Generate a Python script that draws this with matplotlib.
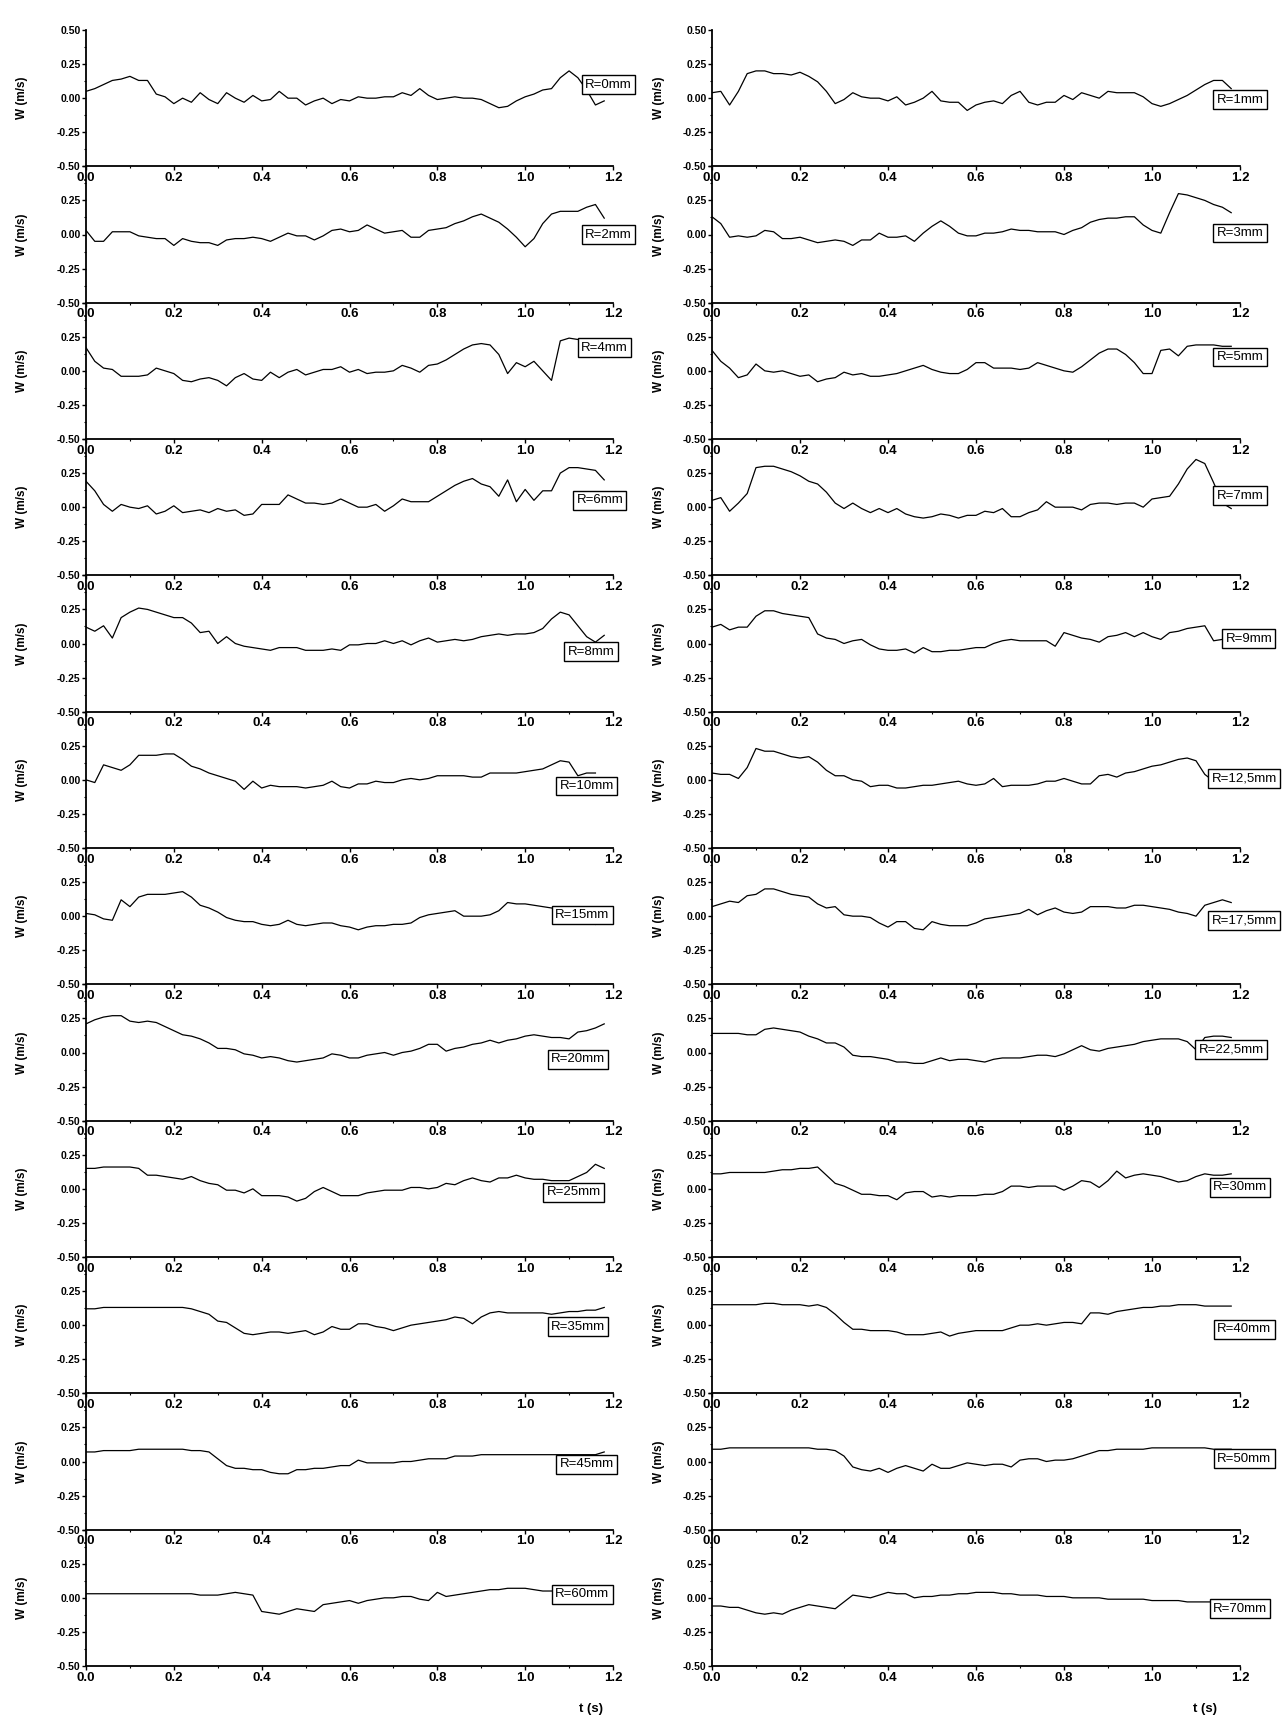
import numpy as np
import matplotlib
matplotlib.use('Agg')
import matplotlib.pyplot as plt
from matplotlib import font_manager
from matplotlib.ticker import MultipleLocator

# narrow font if available
names = {f.name for f in font_manager.fontManager.ttflist}
narrow = 'Liberation Sans Narrow' if 'Liberation Sans Narrow' in names else 'Liberation Sans'
plt.rcParams['font.family'] = [narrow, 'DejaVu Sans']
plt.rcParams['axes.unicode_minus'] = False

nan = np.nan
# time grid (s), 0.00 .. 1.18
t = np.round(np.arange(60) * 0.02, 2)

# ---- left column ----
w_r0 = [.05, .07, .10, .13, .14, .16, .13, .13, .03, .01,
        -.04, .00, -.03, .04, -.01, -.04, .04, .00, -.03, .02,
        -.02, -.01, .05, .00, .00, -.05, -.02, .00, -.04, -.01,
        -.02, .01, .00, .00, .01, .01, .04, .02, .07, .02,
        -.01, .00, .01, .00, .00, -.01, -.04, -.07, -.06, -.02,
        .01, .03, .06, .07, .15, .20, .15, .06, -.05, -.02]
w_r2 = [.03, -.05, -.05, .02, .02, .02, -.01, -.02, -.03, -.03,
        -.08, -.03, -.05, -.06, -.06, -.08, -.04, -.03, -.03, -.02,
        -.03, -.05, -.02, .01, -.01, -.01, -.04, -.01, .03, .04,
        .02, .03, .07, .04, .01, .02, .03, -.02, -.02, .03,
        .04, .05, .08, .10, .13, .15, .12, .09, .04, -.02,
        -.09, -.03, .08, .15, .17, .17, .17, .20, .22, .12]
w_r4 = [.17, .07, .02, .01, -.04, -.04, -.04, -.03, .02, .00,
        -.02, -.07, -.08, -.06, -.05, -.07, -.11, -.05, -.02, -.06,
        -.07, -.01, -.05, -.01, .01, -.03, -.01, .01, .01, .03,
        -.01, .01, -.02, -.01, -.01, .00, .04, .02, -.01, .04,
        .05, .08, .12, .16, .19, .20, .19, .12, -.02, .06,
        .03, .07, .00, -.07, .22, .24, .23, .23, .22, .22]
w_r6 = [.19, .12, .02, -.03, .02, .00, -.01, .01, -.05, -.03,
        .01, -.04, -.03, -.02, -.04, -.01, -.03, -.02, -.06, -.05,
        .02, .02, .02, .09, .06, .03, .03, .02, .03, .06,
        .03, .00, .00, .02, -.03, .01, .06, .04, .04, .04,
        .08, .12, .16, .19, .21, .17, .15, .08, .20, .04,
        .13, .05, .12, .12, .25, .29, .29, .28, .27, .20]
w_r8 = [.12, .09, .13, .04, .19, .23, .26, .25, .23, .21,
        .19, .19, .15, .08, .09, .00, .05, .00, -.02, -.03,
        -.04, -.05, -.03, -.03, -.03, -.05, -.05, -.05, -.04, -.05,
        -.01, -.01, .00, .00, .02, .00, .02, -.01, .02, .04,
        .01, .02, .03, .02, .03, .05, .06, .07, .06, .07,
        .07, .08, .11, .18, .23, .21, .13, .05, .01, .06]
w_r10 = [.00, -.02, .11, .09, .07, .11, .18, .18, .18, .19,
         .19, .15, .10, .08, .05, .03, .01, -.01, -.07, -.01,
         -.06, -.04, -.05, -.05, -.05, -.06, -.05, -.04, -.01, -.05,
         -.06, -.03, -.03, -.01, -.02, -.02, .00, .01, .00, .01,
         .03, .03, .03, .03, .02, .02, .05, .05, .05, .05,
         .06, .07, .08, .11, .14, .13, .03, .05, .05, nan]
w_r15 = [.02, .01, -.02, -.03, .12, .07, .14, .16, .16, .16,
         .17, .18, .14, .08, .06, .03, -.01, -.03, -.04, -.04,
         -.06, -.07, -.06, -.03, -.06, -.07, -.06, -.05, -.05, -.07,
         -.08, -.10, -.08, -.07, -.07, -.06, -.06, -.05, -.01, .01,
         .02, .03, .04, .00, .00, .00, .01, .04, .10, .09,
         .09, .08, .07, .06, .05, .05, .03, .00, -.06, nan]
w_r20 = [.21, .24, .26, .27, .27, .23, .22, .23, .22, .19,
         .16, .13, .12, .10, .07, .03, .03, .02, -.01, -.02,
         -.04, -.03, -.04, -.06, -.07, -.06, -.05, -.04, -.01, -.02,
         -.04, -.04, -.02, -.01, .00, -.02, .00, .01, .03, .06,
         .06, .01, .03, .04, .06, .07, .09, .07, .09, .10,
         .12, .13, .12, .11, .11, .10, .15, .16, .18, .21]
w_r25 = [.15, .15, .16, .16, .16, .16, .15, .10, .10, .09,
         .08, .07, .09, .06, .04, .03, -.01, -.01, -.03, .00,
         -.05, -.05, -.05, -.06, -.09, -.07, -.02, .01, -.02, -.05,
         -.05, -.05, -.03, -.02, -.01, -.01, -.01, .01, .01, .00,
         .01, .04, .03, .06, .08, .06, .05, .08, .08, .10,
         .08, .07, .07, .06, .06, .06, .09, .12, .18, .15]
w_r35 = [.12, .12, .13, .13, .13, .13, .13, .13, .13, .13,
         .13, .13, .12, .10, .08, .03, .02, -.02, -.06, -.07,
         -.06, -.05, -.05, -.06, -.05, -.04, -.07, -.05, -.01, -.03,
         -.03, .01, .01, -.01, -.02, -.04, -.02, .00, .01, .02,
         .03, .04, .06, .05, .01, .06, .09, .10, .09, .09,
         .09, .09, .09, .08, .09, .10, .10, .11, .11, .13]
w_r45 = [.07, .07, .08, .08, .08, .08, .09, .09, .09, .09,
         .09, .09, .08, .08, .07, .02, -.03, -.05, -.05, -.06,
         -.06, -.08, -.09, -.09, -.06, -.06, -.05, -.05, -.04, -.03,
         -.03, .01, -.01, -.01, -.01, -.01, .00, .00, .01, .02,
         .02, .02, .04, .04, .04, .05, .05, .05, .05, .05,
         .05, .05, .05, .05, .05, .05, .05, .05, .05, .07]
w_r60 = [.03, .03, .03, .03, .03, .03, .03, .03, .03, .03,
         .03, .03, .03, .02, .02, .02, .03, .04, .03, .02,
         -.10, -.11, -.12, -.10, -.08, -.09, -.10, -.05, -.04, -.03,
         -.02, -.04, -.02, -.01, .00, .00, .01, .01, -.01, -.02,
         .04, .01, .02, .03, .04, .05, .06, .06, .07, .07,
         .07, .06, .05, .05, .05, .05, .05, .05, .05, .05]

# ---- right column ----
w_r1 = [.04, .05, -.05, .05, .18, .20, .20, .18, .18, .17,
        .19, .16, .12, .05, -.04, -.01, .04, .01, .00, .00,
        -.02, .01, -.05, -.03, .00, .05, -.02, -.03, -.03, -.09,
        -.05, -.03, -.02, -.04, .02, .05, -.03, -.05, -.03, -.03,
        .02, -.01, .04, .02, .00, .05, .04, .04, .04, .01,
        -.04, -.06, -.04, -.01, .02, .06, .10, .13, .13, .07]
w_r3 = [.13, .08, -.02, -.01, -.02, -.01, .03, .02, -.03, -.03,
        -.02, -.04, -.06, -.05, -.04, -.05, -.08, -.04, -.04, .01,
        -.02, -.02, -.01, -.05, .01, .06, .10, .06, .01, -.01,
        -.01, .01, .01, .02, .04, .03, .03, .02, .02, .02,
        .00, .03, .05, .09, .11, .12, .12, .13, .13, .07,
        .03, .01, .16, .30, .29, .27, .25, .22, .20, .16]
w_r5 = [.15, .07, .02, -.05, -.03, .05, .00, -.01, .00, -.02,
        -.04, -.03, -.08, -.06, -.05, -.01, -.03, -.02, -.04, -.04,
        -.03, -.02, .00, .02, .04, .01, -.01, -.02, -.02, .01,
        .06, .06, .02, .02, .02, .01, .02, .06, .04, .02,
        .00, -.01, .03, .08, .13, .16, .16, .12, .06, -.02,
        -.02, .15, .16, .11, .18, .19, .19, .19, .18, .18]
w_r7 = [.05, .07, -.03, .03, .10, .29, .30, .30, .28, .26,
        .23, .19, .17, .11, .03, -.01, .03, -.01, -.04, -.01,
        -.04, -.01, -.05, -.07, -.08, -.07, -.05, -.06, -.08, -.06,
        -.06, -.03, -.04, -.01, -.07, -.07, -.04, -.02, .04, .00,
        .00, .00, -.02, .02, .03, .03, .02, .03, .03, .00,
        .06, .07, .08, .17, .28, .35, .32, .18, .03, -.01]
w_r9 = [.12, .14, .10, .12, .12, .20, .24, .24, .22, .21,
        .20, .19, .07, .04, .03, .00, .02, .03, -.01, -.04,
        -.05, -.05, -.04, -.07, -.03, -.06, -.06, -.05, -.05, -.04,
        -.03, -.03, .00, .02, .03, .02, .02, .02, .02, -.02,
        .08, .06, .04, .03, .01, .05, .06, .08, .05, .08,
        .05, .03, .08, .09, .11, .12, .13, .02, .03, .03]
w_r12_5 = [.05, .04, .04, .01, .09, .23, .21, .21, .19, .17,
           .16, .17, .13, .07, .03, .03, .00, -.01, -.05, -.04,
           -.04, -.06, -.06, -.05, -.04, -.04, -.03, -.02, -.01, -.03,
           -.04, -.03, .01, -.05, -.04, -.04, -.04, -.03, -.01, -.01,
           .01, -.01, -.03, -.03, .03, .04, .02, .05, .06, .08,
           .10, .11, .13, .15, .16, .14, .04, -.01, nan, nan]
w_r17_5 = [.07, .09, .11, .10, .15, .16, .20, .20, .18, .16,
           .15, .14, .09, .06, .07, .01, .00, .00, -.01, -.05,
           -.08, -.04, -.04, -.09, -.10, -.04, -.06, -.07, -.07, -.07,
           -.05, -.02, -.01, .00, .01, .02, .05, .01, .04, .06,
           .03, .02, .03, .07, .07, .07, .06, .06, .08, .08,
           .07, .06, .05, .03, .02, .00, .08, .10, .12, .10]
w_r22_5 = [.14, .14, .14, .14, .13, .13, .17, .18, .17, .16,
           .15, .12, .10, .07, .07, .04, -.02, -.03, -.03, -.04,
           -.05, -.07, -.07, -.08, -.08, -.06, -.04, -.06, -.05, -.05,
           -.06, -.07, -.05, -.04, -.04, -.04, -.03, -.02, -.02, -.03,
           -.01, .02, .05, .02, .01, .03, .04, .05, .06, .08,
           .09, .10, .10, .10, .08, .02, .11, .12, .12, .11]
w_r30 = [.11, .11, .12, .12, .12, .12, .12, .13, .14, .14,
         .15, .15, .16, .10, .04, .02, -.01, -.04, -.04, -.05,
         -.05, -.08, -.03, -.02, -.02, -.06, -.05, -.06, -.05, -.05,
         -.05, -.04, -.04, -.02, .02, .02, .01, .02, .02, .02,
         -.01, .02, .06, .05, .01, .06, .13, .08, .10, .11,
         .10, .09, .07, .05, .06, .09, .11, .10, .10, .11]
w_r40 = [.15, .15, .15, .15, .15, .15, .16, .16, .15, .15,
         .15, .14, .15, .13, .08, .02, -.03, -.03, -.04, -.04,
         -.04, -.05, -.07, -.07, -.07, -.06, -.05, -.08, -.06, -.05,
         -.04, -.04, -.04, -.04, -.02, .00, .00, .01, .00, .01,
         .02, .02, .01, .09, .09, .08, .10, .11, .12, .13,
         .13, .14, .14, .15, .15, .15, .14, .14, .14, .14]
w_r50 = [.09, .09, .10, .10, .10, .10, .10, .10, .10, .10,
         .10, .10, .09, .09, .08, .04, -.04, -.06, -.07, -.05,
         -.08, -.05, -.03, -.05, -.07, -.02, -.05, -.05, -.03, -.01,
         -.02, -.03, -.02, -.02, -.04, .01, .02, .02, .00, .01,
         .01, .02, .04, .06, .08, .08, .09, .09, .09, .09,
         .10, .10, .10, .10, .10, .10, .10, .09, .09, .09]
w_r70 = [-.06, -.06, -.07, -.07, -.09, -.11, -.12, -.11, -.12, -.09,
         -.07, -.05, -.06, -.07, -.08, -.03, .02, .01, .00, .02,
         .04, .03, .03, .00, .01, .01, .02, .02, .03, .03,
         .04, .04, .04, .03, .03, .02, .02, .02, .01, .01,
         .01, .00, .00, .00, .00, -.01, -.01, -.01, -.01, -.01,
         -.02, -.02, -.02, -.02, -.03, -.03, -.03, -.03, -.04, -.04]

left_series = [w_r0, w_r2, w_r4, w_r6, w_r8, w_r10, w_r15, w_r20, w_r25, w_r35, w_r45, w_r60]
left_labels = ['R=0mm', 'R=2mm', 'R=4mm', 'R=6mm', 'R=8mm', 'R=10mm', 'R=15mm',
               'R=20mm', 'R=25mm', 'R=35mm', 'R=45mm', 'R=60mm']
left_box = [(1.19, .10), (1.19, .00), (1.18, .17), (1.17, .05), (1.15, -.06), (1.14, -.045),
            (1.13, .01), (1.12, -.05), (1.11, -.025), (1.12, -.01), (1.14, -.02), (1.13, .025)]

right_series = [w_r1, w_r3, w_r5, w_r7, w_r9, w_r12_5, w_r17_5, w_r22_5, w_r30, w_r40, w_r50, w_r70]
right_labels = ['R=1mm', 'R=3mm', 'R=5mm', 'R=7mm', 'R=9mm', 'R=12,5mm', 'R=17,5mm',
                'R=22,5mm', 'R=30mm', 'R=40mm', 'R=50mm', 'R=70mm']
right_box = [(1.20, -.01), (1.20, .01), (1.20, .10), (1.20, .085), (1.22, .035), (1.21, .01),
             (1.21, -.03), (1.18, .02), (1.20, .01), (1.21, -.03), (1.21, .02), (1.20, -.08)]

W, H = 1282, 1725
fig = plt.figure(figsize=(W / 100, H / 100), dpi=100)

top_px, bot_px = 30, 1666
h_px = (bot_px - top_px) / 12
cols = [(86, 527, -0.11, left_series, left_labels, left_box),
        (712, 528, -0.089, right_series, right_labels, right_box)]

for x0, wpx, ylab_x, series, labels, boxes in cols:
    for i in range(12):
        b = top_px + (i + 1) * h_px
        ax = fig.add_axes([x0 / W, 1 - b / H, wpx / W, h_px / H])
        ax.patch.set_alpha(0)
        ax.plot(t, series[i], color='black', lw=0.9)
        ax.set_xlim(0, 1.2)
        ax.set_ylim(-0.5, 0.5)
        ax.spines['top'].set_visible(False)
        ax.spines['right'].set_visible(False)
        for s in ('left', 'bottom'):
            ax.spines[s].set_linewidth(1.3)
        ax.set_xticks([0, 0.2, 0.4, 0.6, 0.8, 1.0, 1.2])
        ax.set_xticklabels(['0.0', '0.2', '0.4', '0.6', '0.8', '1.0', '1.2'],
                           fontsize=9.5, fontweight='bold')
        ax.xaxis.set_minor_locator(MultipleLocator(0.1))
        ax.set_yticks([-0.5, -0.25, 0, 0.25, 0.5])
        ax.set_yticklabels(['-0.50', '-0.25', '0.00', '0.25', '0.50' if i == 0 else ''],
                           fontsize=7.5, fontweight='bold')
        ax.yaxis.set_minor_locator(MultipleLocator(0.125))
        ax.tick_params(which='major', direction='out', length=3, width=1, pad=1)
        ax.tick_params(which='minor', direction='out', length=1.5, width=0.8)
        ax.set_ylabel('W (m/s)', fontsize=8.5, fontweight='bold')
        ax.yaxis.set_label_coords(ylab_x, 0.5)
        bx, by = boxes[i]
        ax.text(bx, by, labels[i], ha='center', va='center', fontsize=9.5,
                clip_on=False, zorder=5,
                bbox=dict(boxstyle='square,pad=0.25', fc='white', ec='black', lw=1))

fig.text((86 + 1.15 / 1.2 * 527) / W, 1 - 1709 / H, 't (s)', ha='center', va='center',
         fontsize=9.5, fontweight='bold')
fig.text((712 + 1.12 / 1.2 * 528) / W, 1 - 1709 / H, 't (s)', ha='center', va='center',
         fontsize=9.5, fontweight='bold')

fig.savefig('out.png', dpi=100, facecolor='white')
